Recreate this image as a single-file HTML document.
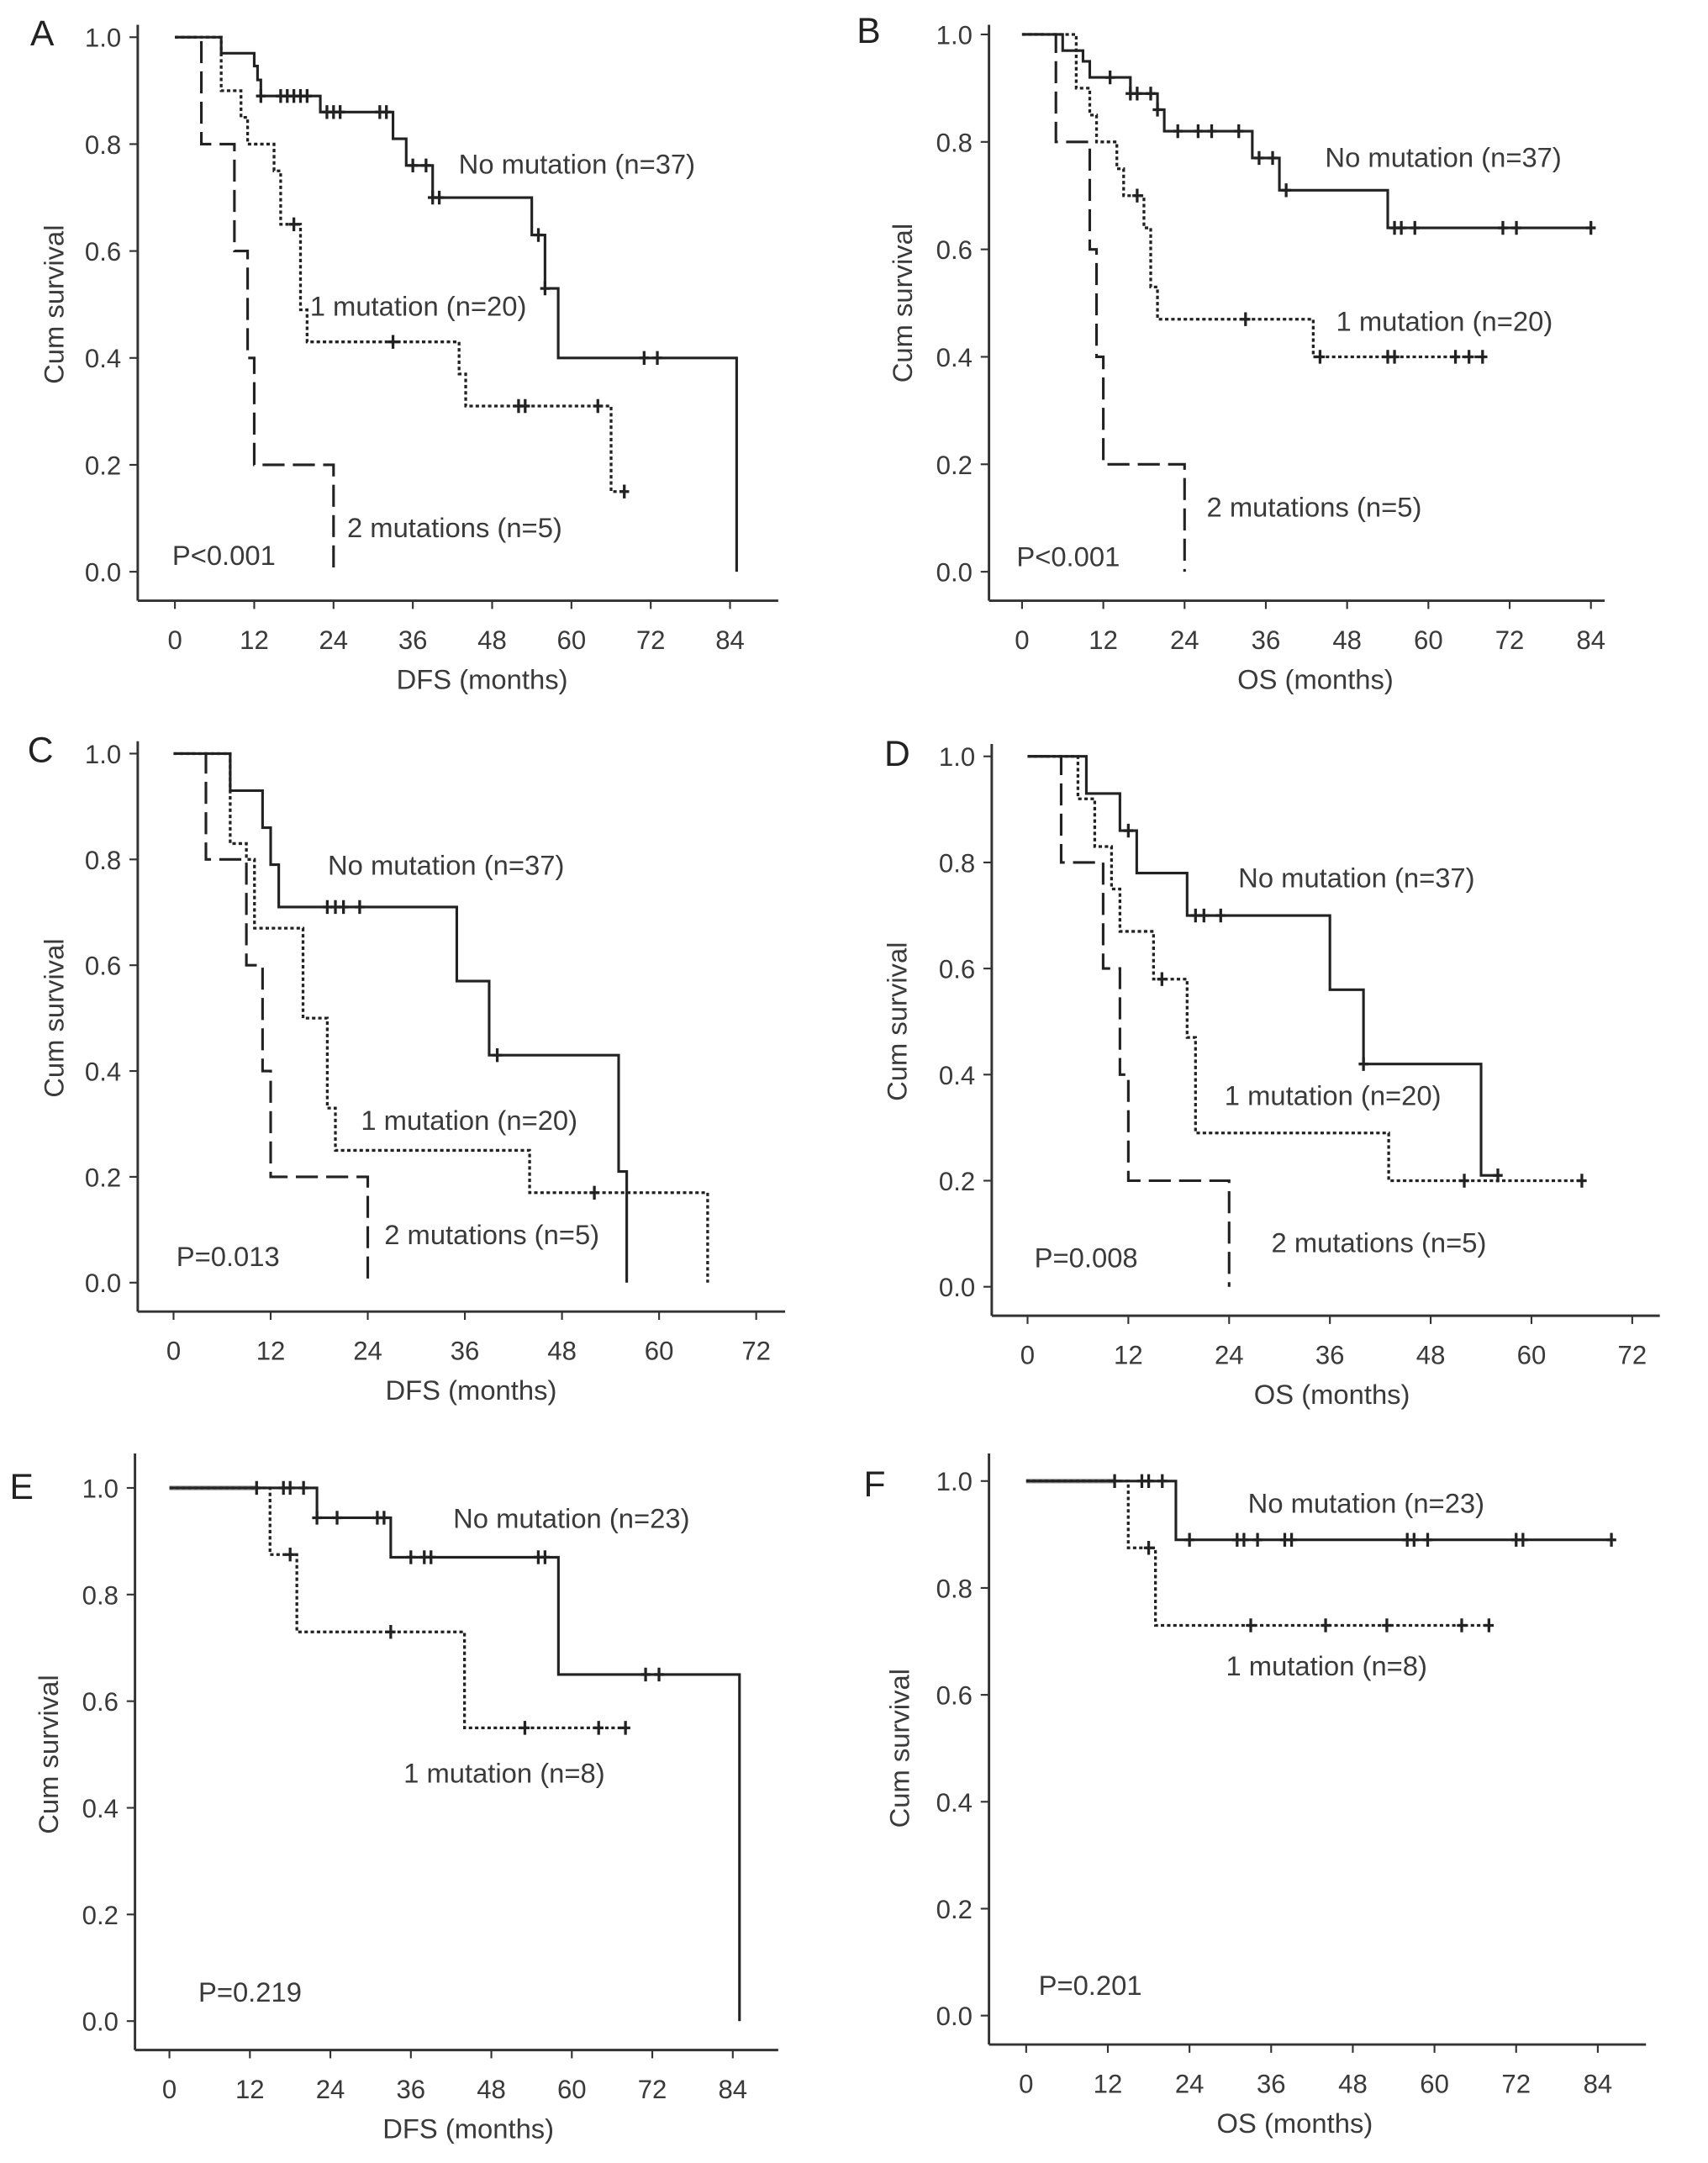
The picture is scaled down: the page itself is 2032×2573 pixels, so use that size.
<!DOCTYPE html>
<html><head><meta charset="utf-8"><style>
html,body{margin:0;padding:0;background:#fff;}
svg{display:block;}
text{font-family:"Liberation Sans",sans-serif;fill:#3a3a3a;}
</style></head><body>
<svg id="fig" width="2032" height="2573" viewBox="0 0 1240 1570" preserveAspectRatio="none" xmlns="http://www.w3.org/2000/svg"></svg>
<script>
// ---- data: step times (months) and survival after each step, censor times ----
const A_no_t=[7,12,12.5,13,22,33,35,39,54,56,58,85];
const A_no_s=[0.97,0.946,0.92,0.89,0.86,0.81,0.76,0.70,0.63,0.53,0.40,0];
const A_no_c=[13,16,17,18,19,20,23,24,25,31,32,36,38,39,40,55,56,71,73];
const A_m1_t=[7,10,11,15,16,19,20,43,44,66];
const A_m1_s=[0.90,0.85,0.80,0.75,0.65,0.49,0.43,0.37,0.31,0.15];
const A_m1_c=[18,33,52,53,64,68];
const A_m2_t=[4,9,11,12,24];
const A_m2_s=[0.8,0.6,0.4,0.2,0];

const B_no_t=[6,9,10,16,20,21,34,38,54];
const B_no_s=[0.97,0.95,0.92,0.89,0.86,0.82,0.77,0.71,0.64];
const B_no_c=[13,16,17,19,20,23,26,28,32,35,37,39,55,56,58,71,73,84];
const B_m1_t=[8,10,11,14,15,18,19,20,43];
const B_m1_s=[0.90,0.85,0.80,0.75,0.70,0.64,0.53,0.47,0.40];
const B_m1_c=[17,33,44,54,55,64,66,68];
const B_m2_t=[5,10,11,12,24];
const B_m2_s=[0.8,0.6,0.4,0.2,0];

const C_no_t=[7,11,12,13,35,39,55,56];
const C_no_s=[0.93,0.86,0.79,0.71,0.57,0.43,0.21,0];
const C_no_c=[19,20,21,23,40];
const C_m1_t=[7,9,10,16,19,20,44,66];
const C_m1_s=[0.83,0.80,0.67,0.50,0.33,0.25,0.17,0];
const C_m1_c=[52];
const C_m2_t=[4,9,11,12,24];
const C_m2_s=[0.8,0.6,0.4,0.2,0];

const D_no_t=[7,11,13,19,36,40,54];
const D_no_s=[0.93,0.86,0.78,0.70,0.56,0.42,0.21];
const D_no_c=[12,20,21,23,40,56];
const D_m1_t=[6,8,10,11,15,19,20,43];
const D_m1_s=[0.92,0.83,0.75,0.67,0.58,0.47,0.29,0.20];
const D_m1_c=[16,52,66];
const D_m2_t=[4,9,11,12,24];
const D_m2_s=[0.8,0.6,0.4,0.2,0];

const E_no_t=[22,33,58,85];
const E_no_s=[0.944,0.87,0.65,0];
const E_no_c=[13,17,18,20,22,25,31,32,36,38,39,55,56,71,73];
const E_m1_t=[15,19,44];
const E_m1_s=[0.875,0.73,0.55];
const E_m1_c=[18,33,53,64,68];

const F_no_t=[22];
const F_no_s=[0.89];
const F_no_c=[13,17,18,20,24,31,32,34,38,39,56,57,59,72,73,86];
const F_m1_t=[15,19];
const F_m1_s=[0.875,0.73];
const F_m1_c=[18,33,44,53,64,68];

const xTicksLong=[0,12,24,36,48,60,72,84];
const xTicksShort=[0,12,24,36,48,60,72];
const yTicks=[0,0.2,0.4,0.6,0.8,1.0];

const NS="http://www.w3.org/2000/svg";
const svg=document.getElementById('fig');
function mk(tag,attrs,parent){const e=document.createElementNS(NS,tag);for(const k in attrs)e.setAttribute(k,attrs[k]);(parent||svg).appendChild(e);return e;}

function panel(p){
  const g=mk('g',{});
  
  
  const X=v=>p.x0+(v-0)*(p.x84-p.x0)/p.xref;
  const Y=v=>p.y0+(v)*(p.y1-p.y0);
  const ya=mk('line',{x1:p.ax,y1:p.ytop,x2:p.ax,y2:p.axy,stroke:'#333','stroke-width':1.8},g);
  
  
  const xa=mk('line',{x1:p.ax,y1:p.axy,x2:p.axr,y2:p.axy,stroke:'#333','stroke-width':1.8},g);
  
  
  yTicks.forEach(v=>{
    mk('line',{x1:p.ax-6,y1:Y(v),x2:p.ax,y2:Y(v),stroke:'#333','stroke-width':1.3},g);
    const t=mk('text',{x:p.ax-12,y:Y(v)+7,'text-anchor':'end','font-size':19},g);
    t.textContent=v.toFixed(1);
    
    
  });
  p.xticks.forEach(v=>{
    mk('line',{x1:X(v),y1:p.axy,x2:X(v),y2:p.axy+6,stroke:'#333','stroke-width':1.3},g);
    const t=mk('text',{x:X(v),y:p.axy+35,'text-anchor':'middle','font-size':19},g);
    t.textContent=v;
    
    
  });
  const xt=mk('text',{x:p.xtx,y:p.axy+64,'text-anchor':'middle','font-size':20},g);
  xt.textContent=p.xtitle;
  
  
  const ytc=(p.y0+p.y1)/2;
  const yt=mk('text',{x:p.ytx,y:ytc,'text-anchor':'middle','font-size':20,transform:`rotate(-90 ${p.ytx} ${ytc})`},g);
  yt.textContent='Cum survival';
  
  
  const L=mk('text',{x:p.lx,y:p.ly,'font-size':26,style:'fill:#222'},g);
  L.textContent=p.letter;
  
  
  if(p.gray){
    const gl=mk('line',{x1:X(0),y1:Y(1),x2:X(p.gray),y2:Y(1),stroke:'#aaa','stroke-width':3.5},g);
    
    
  }
  p.series.forEach(s=>{
    let d=`M${X(0)},${Y(1)}`;let cur=1;
    s.t.forEach((tt,i)=>{d+=` H${X(tt)} V${Y(s.s[i])}`;cur=s.s[i];});
    let last=s.end!==undefined?s.end:Math.max(...s.c,s.t[s.t.length-1]);
    if(cur>0) d+=` H${X(last)}`;
    const path=mk('path',{d:d,fill:'none',stroke:'#222','stroke-width':s.dash==='dot'?2:1.9,'stroke-dasharray':s.dash==='dot'?'2.5 2':(s.dash==='dash'?'16 6':'none')},g);
    
    
    (s.c||[]).forEach(ct=>{
      let sv=1;s.t.forEach((tt,i)=>{if(tt<=ct)sv=s.s[i];});
      const m=mk('path',{d:`M${X(ct)},${Y(sv)-5} V${Y(sv)+5} M${X(ct)-3.5},${Y(sv)} H${X(ct)+3.5}`,stroke:'#222','stroke-width':2},g);
      
      
    });
  });
  p.labels.forEach(l=>{
    const t=mk('text',{x:l[1],y:l[2],'font-size':20},g);
    t.textContent=l[0];
    
    
  });
}

panel({letter:'A',lx:22,ly:33,ax:100,ytop:18,axy:436,axr:565,x0:127,x84:530,xref:84,y0:415,y1:27,xticks:xTicksLong,xtitle:'DFS (months)',xtx:350,ytx:46,
  series:[{name:'no-mutation',t:A_no_t,s:A_no_s,c:A_no_c,dash:'solid'},{name:'one-mutation',t:A_m1_t,s:A_m1_s,c:A_m1_c,dash:'dot'},{name:'two-mutations',t:A_m2_t,s:A_m2_s,c:[],dash:'dash'}],
  labels:[['No mutation (n=37)',333,126],['1 mutation (n=20)',225,229],['2 mutations (n=5)',252,390],['P<0.001',125,410]]});
panel({letter:'B',lx:622,ly:31,ax:718,ytop:18,axy:436,axr:1165,x0:742,x84:1155,xref:84,y0:415,y1:25,xticks:xTicksLong,xtitle:'OS (months)',xtx:955,ytx:662,
  series:[{name:'no-mutation',t:B_no_t,s:B_no_s,c:B_no_c,dash:'solid'},{name:'one-mutation',t:B_m1_t,s:B_m1_s,c:B_m1_c,dash:'dot'},{name:'two-mutations',t:B_m2_t,s:B_m2_s,c:[],dash:'dash'}],
  labels:[['No mutation (n=37)',962,121],['1 mutation (n=20)',970,240],['2 mutations (n=5)',876,375],['P<0.001',738,411]]});
panel({letter:'C',lx:20,ly:553,ax:100,ytop:538,axy:952,axr:570,x0:126,x84:549,xref:72,y0:931,y1:547,xticks:xTicksShort,xtitle:'DFS (months)',xtx:342,ytx:46,
  series:[{name:'no-mutation',t:C_no_t,s:C_no_s,c:C_no_c,dash:'solid'},{name:'one-mutation',t:C_m1_t,s:C_m1_s,c:C_m1_c,dash:'dot'},{name:'two-mutations',t:C_m2_t,s:C_m2_s,c:[],dash:'dash'}],
  labels:[['No mutation (n=37)',238,635],['1 mutation (n=20)',262,820],['2 mutations (n=5)',279,903],['P=0.013',128,919]]});
panel({letter:'D',lx:642,ly:556,ax:720,ytop:540,axy:955,axr:1205,x0:746,x84:1185,xref:72,y0:934,y1:549,xticks:xTicksShort,xtitle:'OS (months)',xtx:967,ytx:658,
  series:[{name:'no-mutation',t:D_no_t,s:D_no_s,c:D_no_c,dash:'solid'},{name:'one-mutation',t:D_m1_t,s:D_m1_s,c:D_m1_c,dash:'dot'},{name:'two-mutations',t:D_m2_t,s:D_m2_s,c:[],dash:'dash'}],
  labels:[['No mutation (n=37)',899,644],['1 mutation (n=20)',889,802],['2 mutations (n=5)',923,909],['P=0.008',751,920]]});
panel({letter:'E',lx:7,ly:1088,ax:98,ytop:1055,axy:1488,axr:565,x0:123,x84:532,xref:84,y0:1467,y1:1080,gray:13,xticks:xTicksLong,xtitle:'DFS (months)',xtx:340,ytx:42,
  series:[{name:'no-mutation',t:E_no_t,s:E_no_s,c:E_no_c,dash:'solid'},{name:'one-mutation',t:E_m1_t,s:E_m1_s,c:E_m1_c,dash:'dot'}],
  labels:[['No mutation (n=23)',329,1109],['1 mutation (n=8)',293,1294],['P=0.219',144,1453]]});
panel({letter:'F',lx:627,ly:1086,ax:718,ytop:1055,axy:1484,axr:1195,x0:745,x84:1160,xref:84,y0:1463,y1:1075,gray:13,xticks:xTicksLong,xtitle:'OS (months)',xtx:940,ytx:660,
  series:[{name:'no-mutation',t:F_no_t,s:F_no_s,c:F_no_c,dash:'solid'},{name:'one-mutation',t:F_m1_t,s:F_m1_s,c:F_m1_c,dash:'dot'}],
  labels:[['No mutation (n=23)',906,1098],['1 mutation (n=8)',890,1216],['P=0.201',754,1448]]});
</script>
</body></html>
